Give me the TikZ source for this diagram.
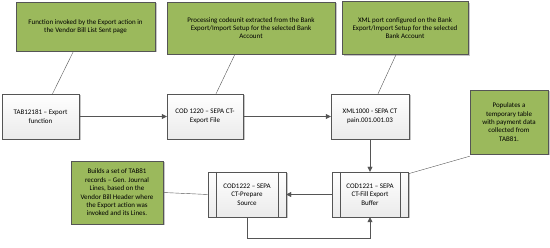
\documentclass[tikz,border=0pt]{standalone}
\usepackage{fontspec}
\setmainfont{Carlito}
\usetikzlibrary{positioning}
\usetikzlibrary{arrows.meta}
\usetikzlibrary{shadows}

\definecolor{notegreen}{RGB}{155,185,92}
\definecolor{edgegray}{RGB}{85,85,85}

\begin{document}
\begin{tikzpicture}[x=1pt,y=-1pt,
    note/.style={draw=edgegray, fill=notegreen, align=center, inner sep=1pt,
      font=\fontsize{7}{8.4}\selectfont,
      drop shadow={opacity=0.45, shadow xshift=1.5pt, shadow yshift=-1.5pt}},
    task/.style={draw=edgegray, top color=white, bottom color=black!8, align=center,
      inner sep=1pt, minimum height=45pt, font=\fontsize{7}{8.6}\selectfont,
      drop shadow={opacity=0.45, shadow xshift=1.5pt, shadow yshift=-1.5pt}},
    flow/.style={draw=edgegray, -{Triangle[length=5pt,width=5pt]}},
    link/.style={draw=edgegray}]
  \useasboundingbox (0,0) rectangle (550,248);

  % Notes
  \node[note, minimum width=139pt, minimum height=49pt] (n1) at (85.5,26.5)
    {Function invoked by the Export action in\\the Vendor Bill List Sent page};
  \node[note, minimum width=168pt, minimum height=52pt] (n2) at (251,28)
    {Processing codeunit extracted from the Bank\\Export/Import Setup for the selected Bank\\Account};
  \node[note, minimum width=126pt, minimum height=53pt] (n3) at (405,28)
    {XML port configured on the Bank\\Export/Import Setup for the selected\\Bank Account};
  \node[note, minimum width=78pt, minimum height=64pt] (n4) at (509,122)
    {Populates a\\temporary table\\with payment data\\collected from\\TAB81.};
  \node[note, minimum width=92pt, minimum height=63pt] (n5) at (117,192.5)
    {Builds a set of TAB81\\records -- Gen. Journal\\Lines, based on the\\Vendor Bill Header where\\the Export action was\\invoked and its Lines.};

  % Steps
  \node[task, minimum width=77pt] (tab) at (40.5,116.5) {TAB12181 -- Export\\function};
  \node[task, minimum width=76pt] (exp) at (205,116.5) {COD 1220 -- SEPA CT-\\Export File};
  \node[task, minimum width=78pt] (xml) at (370,116.5) {XML1000 - SEPA CT\\pain.001.001.03};
  \node[task, minimum width=76pt] (fill) at (370,194.5) {COD1221 -- SEPA\\CT-Fill Export\\Buffer};
  \node[task, minimum width=78pt] (prep) at (247,194.5) {COD1222 -- SEPA\\CT-Prepare\\Source};

  % Process bars
  \foreach \n in {fill,prep} {
    \draw[edgegray] ([xshift=8pt]\n.north west) -- ([xshift=8pt]\n.south west);
    \draw[edgegray] ([xshift=-8pt]\n.north east) -- ([xshift=-8pt]\n.south east);
  }

  % Note links
  \draw[link] ([xshift=-12pt]n1.south) -- ([xshift=12pt]tab.north);
  \draw[link] ([xshift=-16pt]n2.south) -- ([xshift=11pt]exp.north);
  \draw[link] ([xshift=-9pt]n3.south) -- ([xshift=8pt]xml.north);
  \draw[link] ([yshift=-2pt]n4.south west) -- ([yshift=-2pt]fill.north east);
  \draw[link] (n5.east) -- (prep.west);

  % Flow
  \draw[flow] (tab) -- (exp);
  \draw[flow] (exp) -- (xml);
  \draw[flow] (xml) -- (fill);
  \draw[flow] (fill) -- (prep);
  \draw[flow] (prep.south) -- ++(0,21) -| (fill.south);
\end{tikzpicture}
\end{document}
